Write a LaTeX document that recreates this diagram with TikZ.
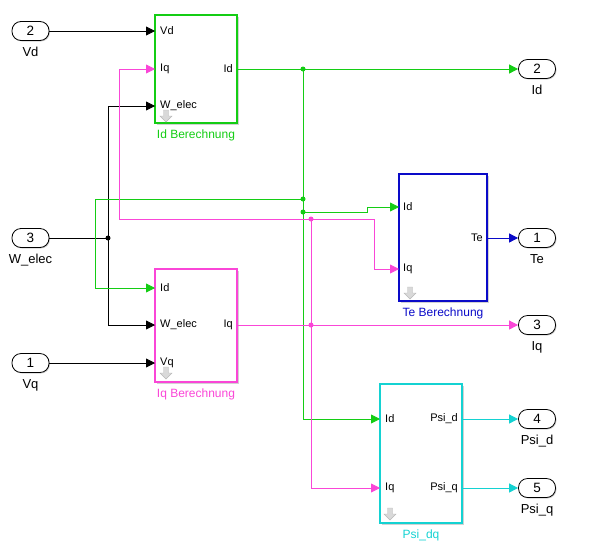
\documentclass[tikz,border=0pt]{standalone}
\usepackage{fontspec}
\setmainfont{Liberation Sans}
\usetikzlibrary{arrows.meta,shadows}
\definecolor{sgreen}{RGB}{20,205,20}
\definecolor{smagenta}{RGB}{250,70,215}
\definecolor{sblue}{RGB}{10,10,200}
\definecolor{scyan}{RGB}{20,210,210}

\begin{document}
\begin{tikzpicture}[x=1pt,y=-1pt]
		\useasboundingbox (0,0) rectangle (596,541);
		\tikzset{block/.style = {shape=rectangle,draw,line width=1.2pt,fill=white,
			drop shadow={shadow xshift=1.5pt,shadow yshift=-1.5pt,fill=gray!35,opacity=1}}}
		\tikzset{blockname/.style = {font=\fontsize{12}{14}\selectfont,yshift=-3pt}}
		\tikzset{port/.style = {shape=rectangle,draw,rounded corners=9pt,line width=0.8pt,
			minimum width=37pt,minimum height=19pt,fill=white,inner sep=0pt,
			font=\fontsize{13.5}{15}\selectfont,
			drop shadow={shadow xshift=1pt,shadow yshift=-1pt,fill=gray!35,opacity=1}}}
		\tikzset{portname/.style = {font=\fontsize{13}{15}\selectfont,yshift=-3pt}}
		\tikzset{pin/.style = {font=\fontsize{11}{12}\selectfont,inner sep=0pt}}
		\tikzset{edge/.style = {->,line width=0.8pt,> = {Triangle[length=9pt,width=9pt]}}}
		\tikzset{dot/.style = {circle,fill,inner sep=0pt,minimum size=5pt}}
		% blocks
		\node[block,draw=sgreen,minimum width=82pt,minimum height=108pt,
			label={[blockname,text=sgreen]below:Id Berechnung}] (idb) at (196,69) {};
		\node[block,draw=sblue,minimum width=88pt,minimum height=127pt,
			label={[blockname,text=sblue]below:Te Berechnung}] (teb) at (443,237.5) {};
		\node[block,draw=smagenta,minimum width=82pt,minimum height=113pt,
			label={[blockname,text=smagenta]below:Iq Berechnung}] (iqb) at (196,325.5) {};
		\node[block,draw=scyan,minimum width=82pt,minimum height=139pt,
			label={[blockname,text=scyan]below:Psi\_dq}] (psib) at (421,453.5) {};

		% grey icons
		\foreach \cx/\ty in {166/110, 410/287, 166/367, 390/508}
			\filldraw[fill=gray!30,draw=gray!55,line width=0.4pt] (\cx-2.5,\ty) -- (\cx+2.5,\ty) -- (\cx+2.5,\ty+6)
				-- (\cx+6,\ty+6) -- (\cx,\ty+12) -- (\cx-6,\ty+6) -- (\cx-2.5,\ty+6) -- cycle;

		% ports of the blocks
		\coordinate (idb-vd) at (155,31);
		\coordinate (idb-iq) at (155,69);
		\coordinate (idb-w)  at (155,106);
		\coordinate (idb-id) at (237,69);
		\coordinate (teb-id) at (399,207);
		\coordinate (teb-iq) at (399,269);
		\coordinate (teb-te) at (487,238);
		\coordinate (iqb-id) at (155,288);
		\coordinate (iqb-w)  at (155,325);
		\coordinate (iqb-vq) at (155,363);
		\coordinate (iqb-iq) at (237,325);
		\coordinate (psib-id) at (380,419);
		\coordinate (psib-iq) at (380,488);
		\coordinate (psib-d) at (462,419);
		\coordinate (psib-q) at (462,488);

		\node[pin,anchor=west] (t1) at (160,31) {Vd};
		\node[pin,anchor=west] (t2) at (160,69) {Iq};
		\node[pin,anchor=west] (t3) at (160,106) {W\_elec};
		\node[pin,anchor=east] (t4) at (233,69) {Id};
		\node[pin,anchor=west] (t5) at (403,207) {Id};
		\node[pin,anchor=west] (t6) at (403,269) {Iq};
		\node[pin,anchor=east] (t7) at (483,238) {Te};
		\node[pin,anchor=west] (t8) at (160,288) {Id};
		\node[pin,anchor=west] (t9) at (160,325) {W\_elec};
		\node[pin,anchor=west] (t10) at (160,363) {Vq};
		\node[pin,anchor=east] (t11) at (233,325) {Iq};
		\node[pin,anchor=west] (t12) at (385,419) {Id};
		\node[pin,anchor=west] (t13) at (385,488) {Iq};
		\node[pin,anchor=east] (t14) at (458,419) {Psi\_d};
		\node[pin,anchor=east] (t15) at (458,488) {Psi\_q};

		% in- and outports
		\node[port,label={[portname]below:Vd}] (in2) at (30.5,31) {2};
		\node[port,label={[portname]below:W\_elec}] (in3) at (30.5,238) {3};
		\node[port,label={[portname]below:Vq}] (in1) at (30.5,363) {1};
		\node[port,label={[portname]below:Id}] (out2) at (537,69) {2};
		\node[port,label={[portname]below:Te}] (out1) at (537,238) {1};
		\node[port,label={[portname]below:Iq}] (out3) at (537,325) {3};
		\node[port,label={[portname]below:Psi\_d}] (out4) at (537,419) {4};
		\node[port,label={[portname]below:Psi\_q}] (out5) at (537,488) {5};

		% branch points
		\coordinate (j1) at (303,69);
		\coordinate (j2) at (303,199);
		\coordinate (j3) at (303,212);
		\coordinate (j4) at (311,219);
		\coordinate (j5) at (311,325);
		\coordinate (jw) at (108,238);

		%edges
		\draw[edge] (in2) -- (idb-vd);
		\draw[edge] (in1) -- (iqb-vq);
		\draw[line width=0.8pt] (in3) -- (jw);
		\draw[edge] (jw) |- (idb-w);
		\draw[edge] (jw) |- (iqb-w);

		\draw[edge,sgreen] (idb-id) -- (out2);
		\draw[edge,sgreen] (j1) |- (psib-id);
		\draw[edge,sgreen] (j2) -- ++(-208,0) |- (iqb-id);
		\draw[edge,sgreen] (j3) -- ++(64,0) |- (teb-id);

		\draw[edge,smagenta] (iqb-iq) -- (out3);
		\draw[edge,smagenta] (j5) |- (psib-iq);
		\draw[line width=0.8pt,smagenta] (j5) -- (j4);
		\draw[edge,smagenta] (j4) -- ++(-192,0) |- (idb-iq);
		\draw[edge,smagenta] (j4) -- ++(63,0) |- (teb-iq);

		\draw[edge,sblue] (teb-te) -- (out1);
		\draw[edge,scyan] (psib-d) -- (out4);
		\draw[edge,scyan] (psib-q) -- (out5);

		\node[dot,sgreen] (d1) at (j1) {};
		\node[dot,sgreen] (d2) at (j2) {};
		\node[dot,sgreen] (d3) at (j3) {};
		\node[dot,smagenta] (d4) at (j4) {};
		\node[dot,smagenta] (d5) at (j5) {};
		\node[dot] (d6) at (jw) {};
\end{tikzpicture}
\end{document}
